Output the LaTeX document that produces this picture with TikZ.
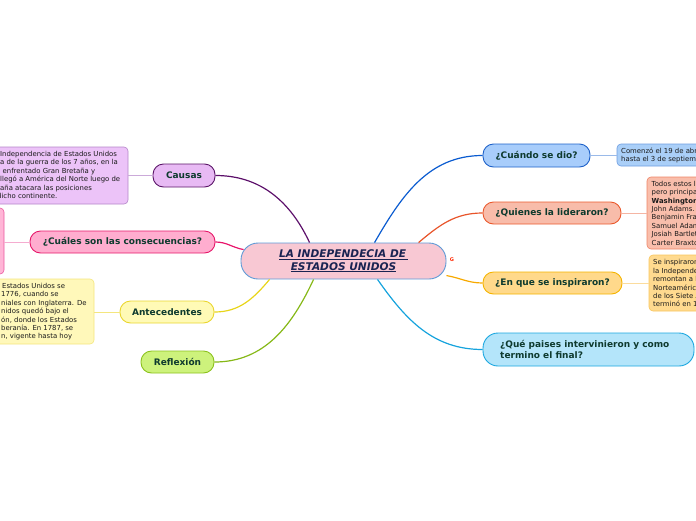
\documentclass[tikz,border=0pt]{standalone}
\usepackage{fontspec}
\setmainfont{DejaVu Sans}
\definecolor{ntext}{HTML}{0E3A2E}
\definecolor{dtxt}{HTML}{1A1A1A}
\definecolor{ctrfill}{HTML}{F8C8D3}
\definecolor{ctrdraw}{HTML}{5E9AD6}
\definecolor{ctrtext}{HTML}{1A2452}
\definecolor{cauF}{HTML}{E8BAF4}\definecolor{cauD}{HTML}{5C1769}\definecolor{cauL}{HTML}{5C0F6A}
\definecolor{cauDF}{HTML}{ECC3F8}\definecolor{cauDD}{HTML}{B585C9}
\definecolor{conF}{HTML}{FFADCF}\definecolor{conD}{HTML}{E6196B}\definecolor{conL}{HTML}{E8156B}
\definecolor{conDF}{HTML}{FFB5D6}\definecolor{conDD}{HTML}{EA5AA0}
\definecolor{antF}{HTML}{FFFAB6}\definecolor{antD}{HTML}{EAD630}\definecolor{antL}{HTML}{E8D51A}
\definecolor{antDF}{HTML}{FFF8BA}\definecolor{antDD}{HTML}{F4E67E}
\definecolor{refF}{HTML}{CDF27C}\definecolor{refD}{HTML}{8CC21E}\definecolor{refL}{HTML}{86B817}
\definecolor{cuaF}{HTML}{A8CDFB}\definecolor{cuaD}{HTML}{1F62C9}\definecolor{cuaL}{HTML}{0A5BD0}
\definecolor{cuaDF}{HTML}{AACFF8}\definecolor{cuaDD}{HTML}{6E9DE0}
\definecolor{quiF}{HTML}{F8BCAA}\definecolor{quiD}{HTML}{EA5A2E}\definecolor{quiL}{HTML}{E8542A}
\definecolor{quiDF}{HTML}{F9BEAB}\definecolor{quiDD}{HTML}{EE8466}
\definecolor{insF}{HTML}{FFD98B}\definecolor{insD}{HTML}{F5B400}\definecolor{insL}{HTML}{F7A900}
\definecolor{insDF}{HTML}{FFDA8F}\definecolor{insDD}{HTML}{F8C55C}
\definecolor{queF}{HTML}{B4E5FA}\definecolor{queD}{HTML}{1BA7E0}\definecolor{queL}{HTML}{16A3DD}
\begin{document}
\begin{tikzpicture}[x=1pt,y=1pt,
  topic/.style={draw, line width=0.9pt, rounded corners=10.5pt, inner sep=0pt,
    font=\bfseries\fontsize{9}{11}\selectfont, text=ntext},
  detail/.style={draw, line width=0.6pt, rounded corners=4pt, inner sep=0pt},
  dtext/.style={inner sep=0pt, align=left, text=dtxt,
    font=\fontsize{6.9}{8.4}\selectfont},
  branch/.style={line width=1.2pt},
  twig/.style={line width=0.8pt}]
\path[use as bounding box] (0,0) rectangle (696,-520);
\clip (0,0) rectangle (696,-520);

% central
\node[draw=ctrdraw, fill=ctrfill, line width=0.9pt, rounded corners=17pt,
  minimum width=205pt, minimum height=36pt, inner sep=0pt, align=center,
  text=ctrtext, font=\bfseries\itshape\fontsize{10.6}{12.5}\selectfont]
  (ctr) at (343.5,-261) {\underline{LA INDEPENDECIA DE\,}\\\underline{ESTADOS UNIDOS}};
\node[text=red!70!orange, font=\bfseries\fontsize{5}{5}\selectfont, inner sep=0pt]
  (gicon) at (452,-260) {G};

% topics
\node[topic, fill=cauF, draw=cauD, minimum width=62pt, minimum height=23pt] (cau) at (184,-175.5) {Causas};
\node[topic, fill=conF, draw=conD, minimum width=185pt, minimum height=22pt] (con) at (122.5,-242) {¿Cuáles son las consecuencias?};
\node[topic, fill=antF, draw=antD, minimum width=94pt, minimum height=22pt] (ant) at (167,-312) {Antecedentes};
\node[topic, fill=refF, draw=refD, minimum width=73pt, minimum height=22pt] (ref) at (177.5,-362) {Reflexión};
\node[topic, fill=cuaF, draw=cuaD, minimum width=107pt, minimum height=23pt] (cua) at (536.5,-155.5) {¿Cuándo se dio?};
\node[topic, fill=quiF, draw=quiD, minimum width=138pt, minimum height=22pt] (qui) at (552,-213) {¿Quienes la lideraron?};
\node[topic, fill=insF, draw=insD, minimum width=139pt, minimum height=22pt] (ins) at (552.5,-283) {¿En que se inspiraron?};
\node[topic, fill=queF, draw=queD, minimum width=211pt, minimum height=33pt, rounded corners=15pt] (que) at (588.5,-349.5) {};
\node[inner sep=0pt, align=left, text=ntext, font=\bfseries\fontsize{9}{11}\selectfont, anchor=west]
  (quet) at (500,-349.5) {¿Qué paises intervinieron y como\\termino el final?};

% detail boxes
\node[detail, fill=cauDF, draw=cauDD, minimum width=150pt, minimum height=57pt] (caud) at (53,-175.5) {};
\node[dtext, anchor=north west] (caudt) at (0,-151) {Independencia de Estados Unidos\\a de la guerra de los 7 años, en la\\\hspace{2.5pt}enfrentado Gran Bretaña y\\llegó a América del Norte luego de\\aña atacara las posiciones\\\hspace{-3pt}dicho continente.};
\node[detail, fill=conDF, draw=conDD, minimum width=30pt, minimum height=66pt] (cond) at (-11,-241) {};
\node[detail, fill=antDF, draw=antDD, minimum width=120pt, minimum height=65pt] (antd) at (34,-311.5) {};
\node[dtext, anchor=north west] (antdt) at (1,-283) {\hspace{1pt}Estados Unidos se\\1776, cuando se\\niales con Inglaterra. De\\nidos quedó bajo el\\ón, donde los Estados\\beranía. En 1787, se\\n, vigente hasta hoy};
\node[detail, fill=cuaDF, draw=cuaDD, minimum width=100pt, minimum height=22pt] (cuad) at (667,-155) {};
\node[dtext, anchor=north west] (cuadt) at (621,-147.5) {Comenzó el 19 de abril de 1775\\hasta el 3 de septiembre de 1783};
\node[detail, fill=quiDF, draw=quiDD, minimum width=80pt, minimum height=72pt] (quid) at (687,-213) {};
\node[dtext, anchor=north west] (quidt) at (651.5,-180.5) {Todos estos líderes,\\pero principalmente\\\textbf{Washington}\\John Adams.\\Benjamin Franklin\\Samuel Adams\\Josiah Bartlett\\Carter Braxton};
\node[detail, fill=insDF, draw=insDD, minimum width=80pt, minimum height=56pt] (insd) at (689,-283) {};
\node[dtext, anchor=north west] (insdt) at (653,-259.5) {Se inspiraron en\\la Independencia\\remontan a las\\Norteamérica\\de los Siete Años\\terminó en 1763};

% branches
\draw[branch, cauL] ([xshift=69pt]ctr.north west) to[out=115, in=0] (cau.east);
\draw[branch, conL] ([xshift=3pt,yshift=-7pt]ctr.north west) to[out=170, in=0] (con.east);
\draw[branch, antL] ([xshift=29pt]ctr.south west) to[out=-130, in=0] (ant.east);
\draw[branch, refL] ([xshift=73pt]ctr.south west) to[out=-115, in=0] (ref.east);
\draw[branch, cuaL] ([xshift=134pt]ctr.north west) to[out=60, in=180] (cua.west);
\draw[branch, quiL] ([xshift=178pt]ctr.north west) to[out=40, in=180] (qui.west);
\draw[branch, insL] ([yshift=-33pt]ctr.north east) to[out=-10, in=180] (ins.west);
\draw[branch, queL] ([xshift=137pt]ctr.south west) to[out=-55, in=180] (que.west);

% twigs
\draw[twig, cauDD!70] (cau.west) -- (cau.west -| caud.east);
\draw[twig, conDD!50] (con.west) -- (con.west -| cond.east);
\draw[twig, antDD] (ant.west) -- (ant.west -| antd.east);
\draw[twig, cuaDD!70] (cua.east) -- (cua.east -| cuad.west);
\draw[twig, quiDD!60] (qui.east) -- (qui.east -| quid.west);
\draw[twig, insDD!60] (ins.east) -- (ins.east -| insd.west);
\end{tikzpicture}
\end{document}
